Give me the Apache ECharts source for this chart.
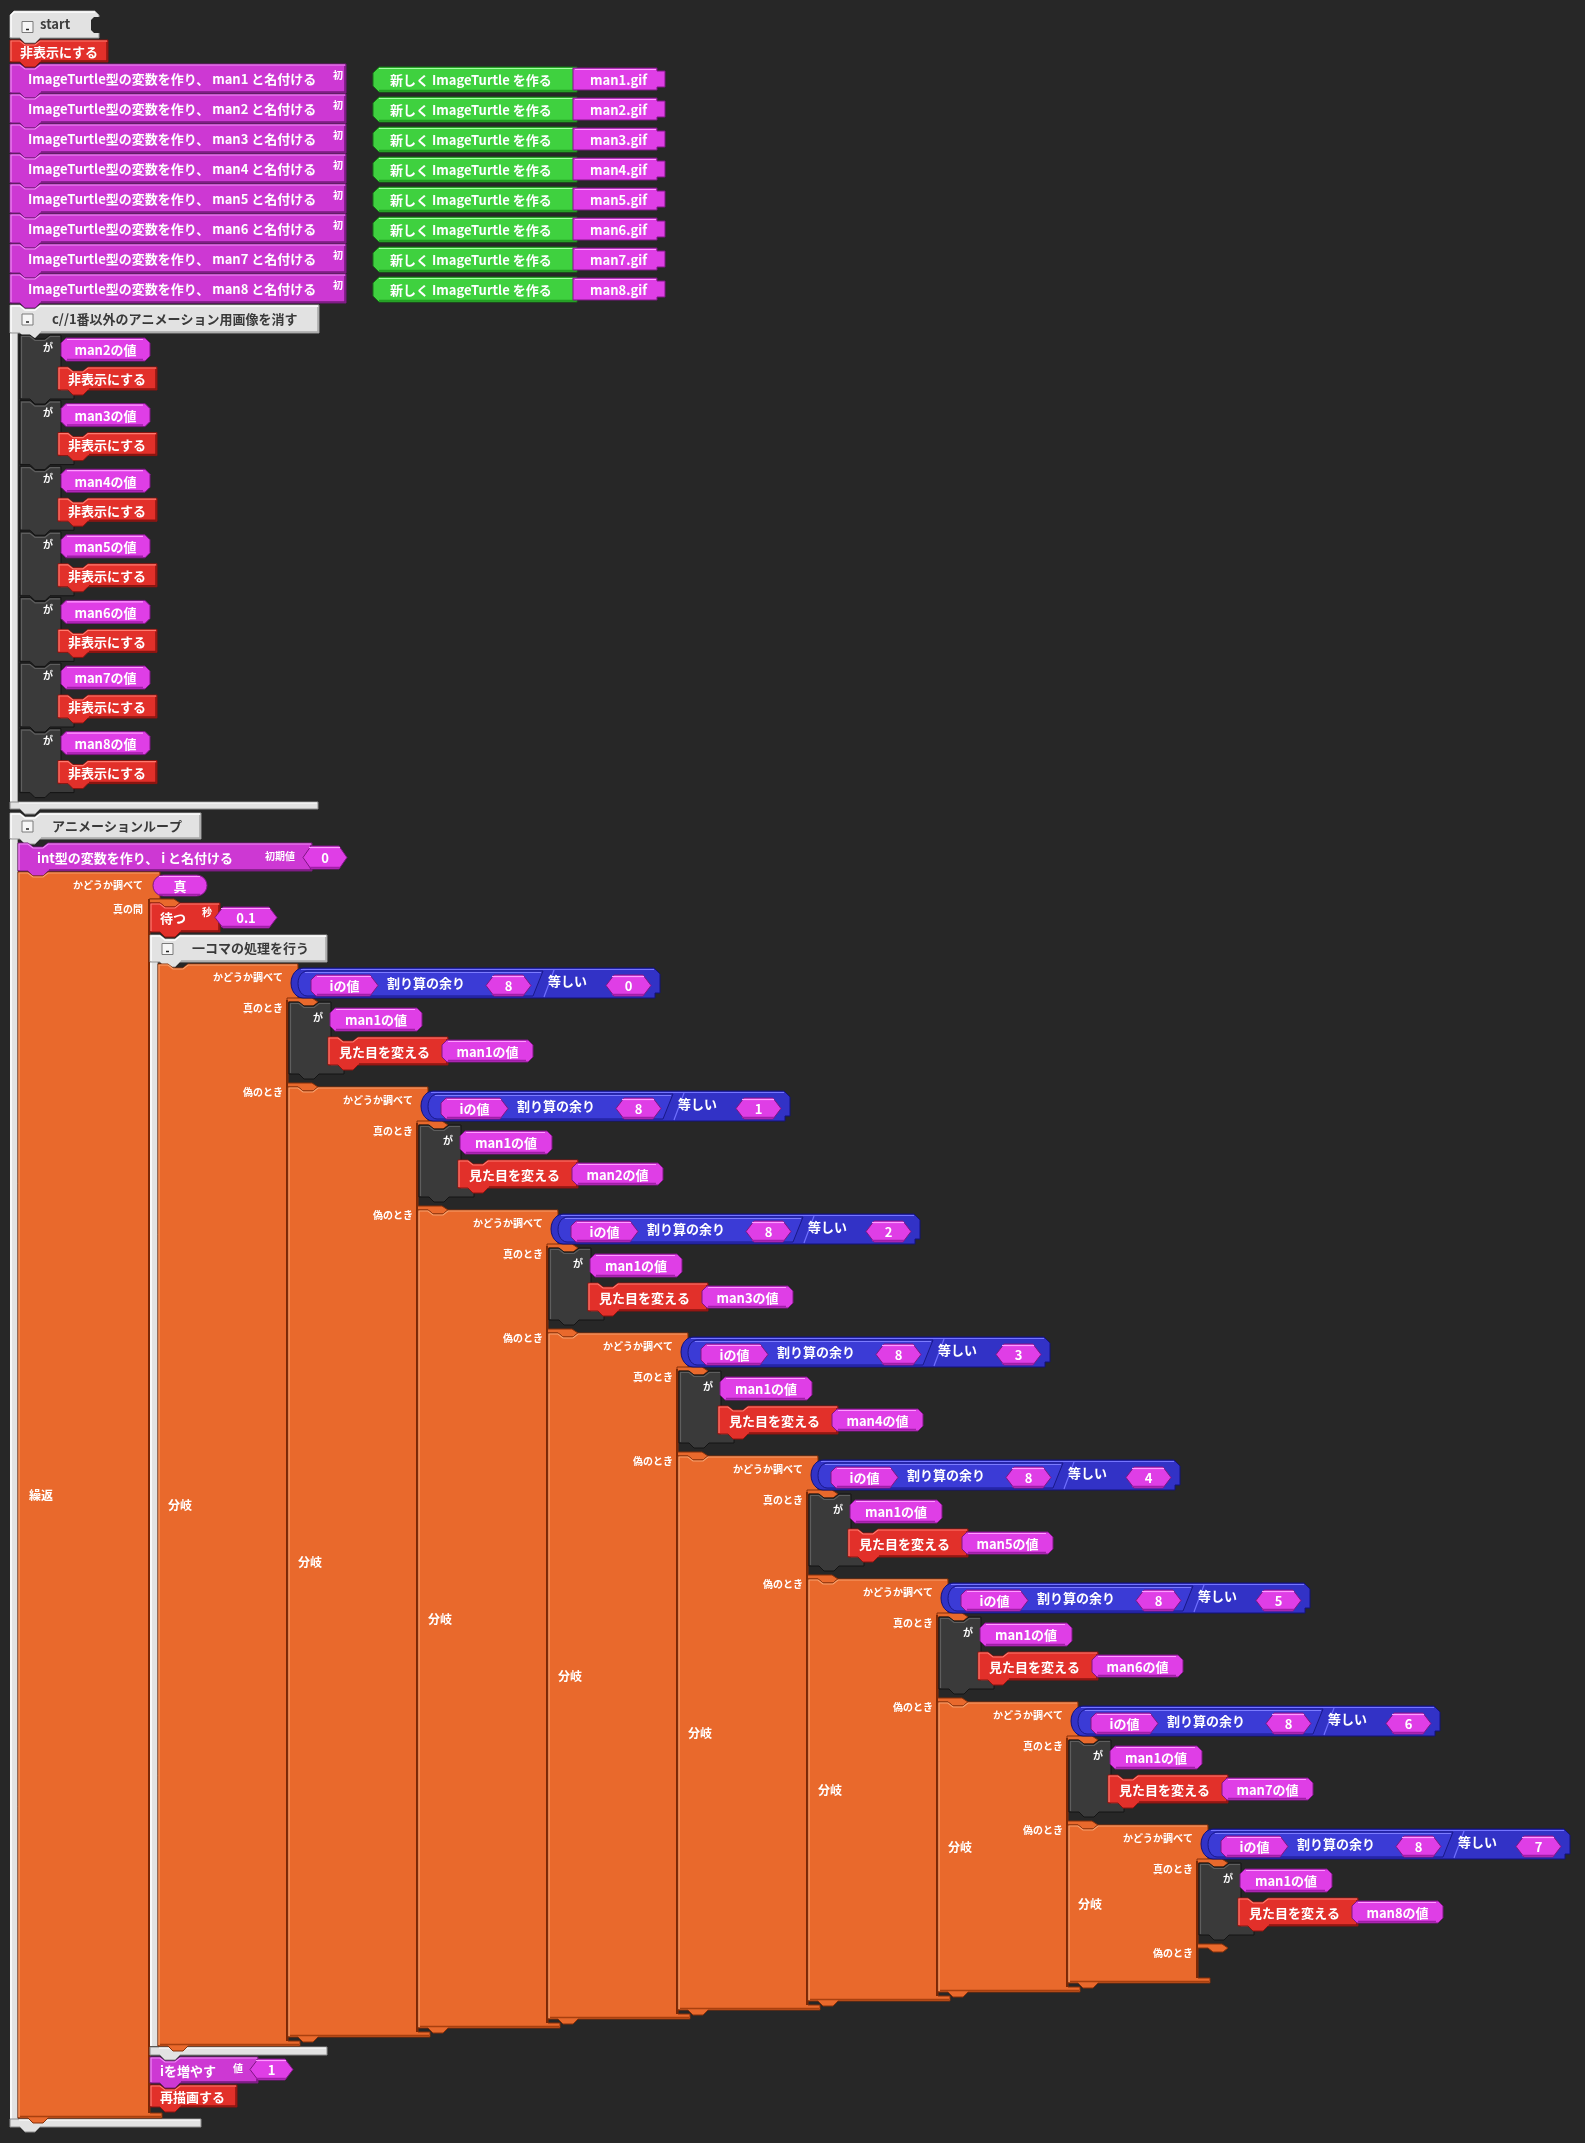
<!DOCTYPE html>
<html><head><meta charset="utf-8">
<script src="https://cdn.jsdelivr.net/npm/echarts@6/dist/echarts.min.js"></script>
<style>html,body{margin:0;padding:0;background:#272727;}#c{width:1585px;height:2143px;}</style>
</head><body><div id="c"></div>
<script>
// ---------------- data (program content) ----------------
const hatLabel = 'start';
const hideLabel = '非表示にする';
const turtleVars = ['man1','man2','man3','man4','man5','man6','man7','man8'];
const gifFiles = ['man1.gif','man2.gif','man3.gif','man4.gif','man5.gif','man6.gif','man7.gif','man8.gif'];
const declPre = 'ImageTurtle型の変数を作り、';
const declPost = 'と名付ける';
const newTurtleLabel = '新しく ImageTurtle を作る';
const hiddenAtStart = ['man2','man3','man4','man5','man6','man7','man8'];
const valueSuffix = 'の値';
const comment1 = 'c//1番以外のアニメーション用画像を消す';
const comment2 = 'アニメーションループ';
const comment3 = '一コマの処理を行う';
const counterDecl = 'int型の変数を作り、 i と名付ける';
const counterName = 'i';
const counterInit = '0';
const loopCond = '真';
const waitLabel = '待つ';
const waitSeconds = '0.1';
const modOp = '割り算の余り';
const eqOp = '等しい';
const modulus = '8';
const frameRemainders = ['0','1','2','3','4','5','6','7'];
const frameSubject = 'man1';
const frameTargets = ['man1','man2','man3','man4','man5','man6','man7','man8'];
const changeLook = '見た目を変える';
const incLabel = 'iを増やす';
const stepValue = '1';
const redrawLabel = '再描画する';
const smallLabels = {check:'かどうか調べて', whileTrue:'真の間', ifTrue:'真のとき', ifFalse:'偽のとき', subj:'が', init:'初期値', sec:'秒', val:'値', initShort:'初', branch:'分岐', loop:'繰返'};

// ---------------- layout engine ----------------
const W = 1585, H = 2143;
const C = {
  red:['#e2302a','#ff7a6e','#8a1410'],
  purple:['#cd38d3','#f08cf6','#761a7c'],
  pink:['#df3ee6','#ff9dff','#7e1684'],
  green:['#3fd13f','#a2ffa2','#167216'],
  blue:['#3232c6','#7474ff','#12127a'],
  blueIn:['#3b3bd6','#7c7cff','#181888'],
  orange:['#e9692c','#f8a06c','#86300a'],
  dark:['#3a3a3a','#5e5e5e','#141414'],
  gray:['#e2e2e2','#ffffff','#979797']
};
const MAIN = "bold 13px 'Noto Sans CJK JP', sans-serif";
const SMALL = "bold 10px 'Noto Sans CJK JP', sans-serif";
const MID = "bold 12px 'Noto Sans CJK JP', sans-serif";

const blocks = [];
function add(o){ if(o.w===undefined){o.w=1;} if(o.h===undefined){o.h=1;} blocks.push(o); return o; }

// start hat
add({k:'hat', x:10, y:11, w:89, h:27, text:hatLabel});
add({k:'stmt', c:'red', x:10, y:40, w:98, h:22, text:hideLabel, tx:10});
turtleVars.forEach(function(v,i){
  const y = 64 + 30*i;
  add({k:'stmt', c:'purple', x:10, y:y, w:336, h:29, text:declPre+' '+v+' '+declPost, tx:18});
  add({k:'label', x:333, y:y+11, text:smallLabels.initShort});
  add({k:'green', x:373, y:y+3, w:204, h:25, text:newTurtleLabel, tx:17});
  add({k:'gif', x:573, y:y+4, w:92, h:22, text:gifFiles[i]});
});

// comment 1 : hide other images
add({k:'grayStrip', x:10, y:333, w:8, h:469});
add({k:'grayBar', x:10, y:802, w:308, h:7});
add({k:'header', x:10, y:305, w:309, h:28, text:comment1});
hiddenAtStart.forEach(function(v,j){
  const y = 335 + 65.6*j;
  add({k:'dark', x:20, y:y, w:38, h:64});
  add({k:'label', x:53, y:y+12, text:smallLabels.subj, align:'right'});
  add({k:'pill', shape:'oct', x:61, y:y+3, w:89, h:23, text:v+valueSuffix});
  add({k:'stmt', c:'red', x:58, y:y+32, w:99, h:23, text:hideLabel, tx:10});
});

// comment 2 : animation loop
add({k:'grayStrip', x:10, y:839, w:8, h:1280});
add({k:'grayBar', x:10, y:2119, w:191, h:8});
add({k:'header', x:10, y:813, w:191, h:26, text:comment2});
add({k:'stmt', c:'purple', x:18, y:843, w:294, h:28, text:counterDecl, tx:19});
add({k:'label', x:265, y:856, text:smallLabels.init});
add({k:'pill', shape:'hex', x:303, y:846, w:44, h:23, text:counterInit});
add({k:'cblock', x:18, y:872, colW:132, armW:142, armH:27, B:2118, slots:[903], w:154, h:1251});
add({k:'label', x:143, y:885, text:smallLabels.check, align:'right'});
add({k:'pill', shape:'round', x:153, y:875, w:54, h:21, text:loopCond});
add({k:'label', x:143, y:909, text:smallLabels.whileTrue, align:'right'});
add({k:'big', x:29, y:1495, text:smallLabels.loop});
add({k:'stmt', c:'red', x:150, y:903, w:70, h:29, text:waitLabel, tx:10});
add({k:'label', x:202, y:912, text:smallLabels.sec});
add({k:'pill', shape:'hex', x:215, y:907, w:62, h:21, text:waitSeconds});

// comment 3 : one frame
add({k:'grayStrip', x:150, y:962, w:8, h:1084});
add({k:'grayBar', x:150, y:2047, w:177, h:8});
add({k:'header', x:150, y:935, w:177, h:27, text:comment3});
frameRemainders.forEach(function(r,k){
  const L = 158 + 130*k, T = 964 + 123*k, Bk = 2046 - 9*k;
  add({k:'cblock', x:L, y:T, colW:130, armW:140, armH:36, B:Bk, slots:[T+38, T+123], w:160, h:Bk-T+5});
  add({k:'label', x:L+125, y:T+13, text:smallLabels.check, align:'right'});
  add({k:'label', x:L+125, y:T+44, text:smallLabels.ifTrue, align:'right'});
  add({k:'label', x:L+125, y:T+128, text:smallLabels.ifFalse, align:'right'});
  add({k:'big', x:L+10, y:(T+Bk)/2, text:smallLabels.branch});
  add({k:'cond', x:L+133, y:T+4, w:369, h:30, a:counterName+valueSuffix, op:modOp, m:modulus, eq:eqOp, v:r});
  add({k:'dark', x:L+131, y:T+38, w:39, h:72});
  add({k:'label', x:L+165, y:T+53, text:smallLabels.subj, align:'right'});
  add({k:'pill', shape:'oct', x:L+172, y:T+44, w:92, h:23, text:frameSubject+valueSuffix});
  add({k:'stmt', c:'red', x:L+170, y:T+73, w:120, h:28, text:changeLook, tx:11});
  add({k:'pill', shape:'oct', x:L+284, y:T+76, w:91, h:22, text:frameTargets[k]+valueSuffix});
});
add({k:'stmt', c:'purple', x:150, y:2057, w:108, h:26, text:incLabel, tx:10});
add({k:'label', x:233, y:2068, text:smallLabels.val});
add({k:'pill', shape:'hex', x:250, y:2059, w:43, h:21, text:stepValue});
add({k:'stmt', c:'red', x:150, y:2085, w:87, h:22, text:redrawLabel, tx:10});

// ---------------- drawing helpers ----------------
function poly(M, pts, fill, stroke, lw){
  return {type:'polygon', shape:{points:pts.map(function(p){return M(p[0],p[1]);})}, style:{fill:fill, stroke:stroke||null, lineWidth:lw||1}};
}
function line(M, pts, stroke, lw){
  return {type:'polyline', shape:{points:pts.map(function(p){return M(p[0],p[1]);})}, style:{fill:null, stroke:stroke, lineWidth:lw||1}};
}
function txt(M, x, y, s, o){
  o = o||{};
  const p = M(x,y);
  return {type:'text', style:{text:s, x:p[0], y:p[1], fill:o.fill||'#ffffff', font:o.font||MAIN,
    align:o.align||'left', verticalAlign:'middle',
    shadowColor:o.sh||'rgba(0,0,0,0.95)', shadowOffsetX:1, shadowOffsetY:1, shadowBlur:o.blur||1}};
}
function stmtPts(x,y,w,h){
  return [[x,y],[x+10,y],[x+15,y+4],[x+25,y+4],[x+30,y],[x+w,y],[x+w,y+h],[x+30,y+h],[x+25,y+h+5],[x+15,y+h+5],[x+10,y+h],[x,y+h]];
}
function checkbox(M, ch, x, y){
  ch.push(poly(M, [[x,y],[x+11,y],[x+11,y+11],[x,y+11]], '#f6f6f6', '#7a7a7a', 1));
  ch.push(line(M, [[x+4,y+8],[x+7,y+8]], '#222', 1.5));
}
function pillPts(shape, x, y, w, h){
  const c = 5, e = 8;
  if(shape==='hex') return [[x+e,y],[x+w-e,y],[x+w,y+h/2],[x+w-e,y+h],[x+e,y+h],[x,y+h/2]];
  if(shape==='arrow') return [[x+c,y],[x+w-e,y],[x+w,y+h/2],[x+w-e,y+h],[x+c,y+h],[x,y+h-c],[x,y+c]];
  if(shape==='round'){
    const pts=[], r=h/2;
    for(let a=-90;a<=90;a+=15){const t=a*Math.PI/180; pts.push([x+w-r+r*Math.cos(t), y+r+r*Math.sin(t)]);}
    for(let a=90;a<=270;a+=15){const t=a*Math.PI/180; pts.push([x+r+r*Math.cos(t), y+r+r*Math.sin(t)]);}
    return pts;
  }
  return [[x+c,y],[x+w-c,y],[x+w,y+c],[x+w,y+h-c],[x+w-c,y+h],[x+c,y+h],[x,y+h-c],[x,y+c]];
}
function drawPill(M, ch, shape, x, y, w, h, s){
  const col = C.pink;
  ch.push(poly(M, pillPts(shape,x,y,w,h), col[0], col[2], 1));
  ch.push(line(M, [[x+6,y+1.5],[x+w-7,y+1.5]], col[1], 1.2));
  ch.push(line(M, [[x+6,y+h-1.5],[x+w-7,y+h-1.5]], '#a01ea8', 1.5));
  ch.push(txt(M, x+w/2, y+h/2+1, s, {align:'center'}));
}

function renderItem(params, api){
  const b = blocks[api.value(4)];
  const M = function(x,y){ return api.coord([x,y]); };
  const ch = [];
  const x=b.x, y=b.y, w=b.w, h=b.h;
  switch(b.k){
    case 'hat': {
      const g = C.gray;
      ch.push(poly(M, [[x+4,y],[x+w-4,y],[x+w,y+4],[x+w,y+h],[x+30,y+h],[x+25,y+h+5],[x+15,y+h+5],[x+10,y+h],[x,y+h],[x,y+4]], g[0], g[2], 1));
      ch.push(line(M, [[x+1,y+h-1],[x+1,y+4],[x+4,y+1],[x+w-4,y+1]], g[1], 1.5));
      ch.push(poly(M, [[x+w+1,y+6],[x+w-5,y+6],[x+w-8,y+9],[x+w-8,y+h-8],[x+w-5,y+h-5],[x+w+1,y+h-5]], '#272727', null, 1));
      checkbox(M, ch, x+12, y+h/2-3);
      ch.push(txt(M, x+30, y+h/2, b.text, {fill:'#3e3e3e', sh:'rgba(255,255,255,0.9)'}));
      break;
    }
    case 'stmt': {
      const col = C[b.c];
      ch.push(poly(M, stmtPts(x,y,w,h), col[0], col[2], 1));
      ch.push(line(M, [[x+1,y+h-1],[x+1,y+1],[x+10,y+1],[x+15,y+5],[x+25,y+5],[x+30,y+1],[x+w-1,y+1]], col[1], 1.2));
      ch.push(line(M, [[x+w-1,y+2],[x+w-1,y+h-1],[x+31,y+h-1]], col[2], 1.5));
      ch.push(txt(M, x+b.tx, y+h/2+1, b.text));
      break;
    }
    case 'header': {
      const g = C.gray;
      ch.push(poly(M, stmtPts(x,y,w,h), g[0], g[2], 1));
      ch.push(line(M, [[x+1,y+h-1],[x+1,y+1],[x+10,y+1],[x+15,y+5],[x+25,y+5],[x+30,y+1],[x+w-1,y+1]], g[1], 1.5));
      ch.push(line(M, [[x+w-1,y+2],[x+w-1,y+h-1],[x+31,y+h-1]], '#a8a8a8', 1.5));
      checkbox(M, ch, x+12, y+h/2-5);
      ch.push(txt(M, x+42, y+h/2, b.text, {fill:'#3a3a3a', sh:'rgba(255,255,255,0.9)'}));
      break;
    }
    case 'grayStrip': {
      ch.push(poly(M, [[x,y],[x+w,y],[x+w,y+h],[x,y+h]], C.gray[0], null, 1));
      ch.push(line(M, [[x+1,y],[x+1,y+h]], '#ffffff', 1.5));
      ch.push(line(M, [[x+w-0.5,y],[x+w-0.5,y+h]], '#a0a0a0', 1));
      break;
    }
    case 'grayBar': {
      ch.push(poly(M, [[x,y],[x+w,y],[x+w,y+h],[x+30,y+h],[x+25,y+h+5],[x+15,y+h+5],[x+10,y+h],[x,y+h]], C.gray[0], '#8c8c8c', 1));
      ch.push(line(M, [[x+9,y+1],[x+w-1,y+1]], '#ffffff', 1.2));
      break;
    }
    case 'dark': {
      const d = C.dark;
      ch.push(poly(M, [[x,y],[x+10,y],[x+15,y+4],[x+25,y+4],[x+30,y],[x+w+3,y],[x+w+3,y+h-10],[x+w+16,y+h-10],[x+w+16,y+h],[x+30,y+h],[x+25,y+h+5],[x+15,y+h+5],[x+10,y+h],[x,y+h]], d[0], d[2], 1));
      ch.push(line(M, [[x+1.5,y+h-1],[x+1.5,y+1.5],[x+10,y+1.5],[x+15,y+5.5],[x+25,y+5.5],[x+30,y+1.5],[x+w+2,y+1.5]], d[1], 1.2));
      ch.push(line(M, [[x+w+3,y+h-9],[x+w+15,y+h-9]], d[1], 1));
      break;
    }
    case 'pill': {
      drawPill(M, ch, b.shape, x, y, w, h, b.text);
      break;
    }
    case 'green': {
      const g = C.green, c = 6;
      ch.push(poly(M, [[x+c,y],[x+w,y],[x+w,y+h],[x+c,y+h],[x,y+h-c],[x,y+c]], g[0], g[2], 1));
      ch.push(line(M, [[x+c,y+1.5],[x+w-1,y+1.5]], g[1], 1.2));
      ch.push(line(M, [[x+c,y+h-1.5],[x+w-1,y+h-1.5]], '#23a023', 1.5));
      ch.push(txt(M, x+b.tx, y+h/2+1, b.text));
      break;
    }
    case 'gif': {
      const p = C.pink;
      ch.push(poly(M, [[x,y],[x+w-8,y],[x+w-8,y+3],[x+w,y+3],[x+w,y+h-3],[x+w-8,y+h-3],[x+w-8,y+h],[x,y+h]], p[0], p[2], 1));
      ch.push(line(M, [[x+2,y+1.5],[x+w-9,y+1.5]], p[1], 1.2));
      ch.push(txt(M, x+17, y+h/2+1, b.text));
      break;
    }
    case 'label': {
      ch.push(txt(M, x, y, b.text, {font:SMALL, align:b.align||'left'}));
      break;
    }
    case 'big': {
      ch.push(txt(M, x, y, b.text, {font:MID}));
      break;
    }
    case 'cblock': {
      const o = C.orange, L=x, T=y, cw=b.colW, aw=b.armW, ah=b.armH, B=b.B;
      ch.push(poly(M, [[L,T],[L+10,T],[L+15,T+4],[L+25,T+4],[L+30,T],[L+aw,T],[L+aw,T+ah],[L+cw,T+ah],[L+cw,B-5],[L+cw+12,B-5],[L+cw+12,B],[L+30,B],[L+25,B+5],[L+15,B+5],[L+10,B],[L,B]], o[0], o[2], 1));
      b.slots.forEach(function(sy){
        ch.push(poly(M, [[L+cw-1,sy-4],[L+cw+24,sy-4],[L+cw+30,sy],[L+cw+25,sy+4],[L+cw+15,sy+4],[L+cw+10,sy],[L+cw-1,sy]], o[0], o[2], 1));
      });
      ch.push(line(M, [[L+cw-1,T+ah],[L+cw-1,B-5]], '#7a2806', 2));
      ch.push(line(M, [[L+1,B-1],[L+1,T+1],[L+10,T+1],[L+15,T+5],[L+25,T+5],[L+30,T+1],[L+aw-1,T+1]], o[1], 1.2));
      ch.push(line(M, [[L+2,B-1.5],[L+cw+11,B-1.5]], '#a8400f', 1.5));
      break;
    }
    case 'cond': {
      const bl = C.blue, bi = C.blueIn;
      const outer = [[x+12,y],[x+w-6,y],[x+w,y+6],[x+w,y+h-5],[x+w-5,y+h-5],[x+w-5,y+h],[x+12,y+h]];
      for(let a=270;a>=90;a-=15){const t=a*Math.PI/180; outer.push([x+12+12*Math.cos(t), y+h/2-(h/2)*Math.sin(t)]);}
      ch.push(poly(M, outer, bl[0], bl[2], 1));
      ch.push(line(M, [[x+10,y+1.5],[x+w-6,y+1.5]], bl[1], 1.2));
      const inner = [[x+16,y+3],[x+252,y+3],[x+242,y+h-2],[x+16,y+h-2]];
      for(let a=270;a>=90;a-=15){const t=a*Math.PI/180; inner.push([x+16+9*Math.cos(t), y+3+(h-5)/2-((h-5)/2)*Math.sin(t)]);}
      ch.push(poly(M, inner, bi[0], bi[2], 1));
      ch.push(line(M, [[x+14,y+4.5],[x+250,y+4.5]], bi[1], 1));
      ch.push(line(M, [[x+253,y+h-1],[x+263,y+2]], '#7070ff', 1.2));
      drawPill(M, ch, 'arrow', x+20, y+7, 67, 21, b.a);
      ch.push(txt(M, x+96, y+h/2, b.op));
      drawPill(M, ch, 'hex', x+195, y+7, 45, 21, b.m);
      ch.push(txt(M, x+257, y+h/2-2, b.eq));
      drawPill(M, ch, 'hex', x+315, y+7, 45, 21, b.v);
      break;
    }
  }
  return {type:'group', children:ch};
}

const chart = echarts.init(document.getElementById('c'), null, {renderer:'canvas'});
chart.setOption({
  backgroundColor:'#272727',
  animation:false,
  grid:{left:0, right:0, top:0, bottom:0},
  xAxis:{type:'value', min:0, max:W, show:false},
  yAxis:{type:'value', min:0, max:H, inverse:true, show:false},
  series:[{
    type:'custom',
    clip:false,
    renderItem:renderItem,
    encode:{x:[0,2], y:[1,3]},
    data:blocks.map(function(b,i){ return [b.x, b.y, b.x+b.w, b.y+b.h, i]; })
  }]
});
</script></body></html>
